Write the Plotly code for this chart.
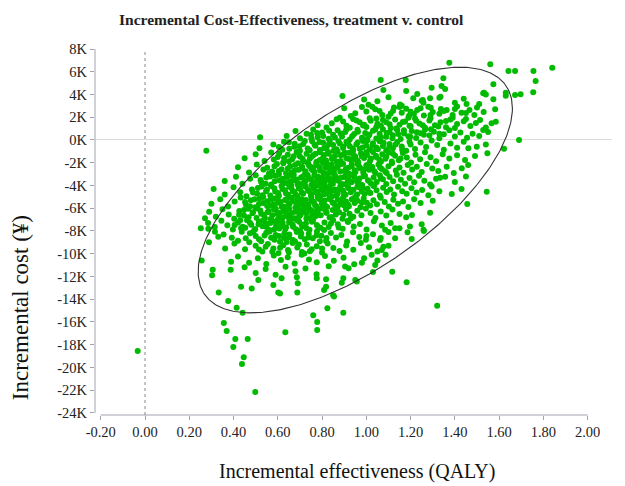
import plotly.graph_objects as go
import numpy as np

# ---------------- data (incremental QALY, incremental cost in thousands of yen) ----------------
draws_upper = [
    (1.375, 6.80), (1.560, 6.65), (1.840, 6.36), (1.642, 6.07), (1.672, 6.07), (1.755, 6.07),
    (1.348, 5.42), (1.178, 5.27), (1.065, 5.27), (1.765, 5.19),
    (1.574, 4.90), (1.077, 4.40), (1.754, 4.19), (1.697, 4.02), (1.630, 4.16), (1.532, 4.16),
    (1.295, 4.60), (1.340, 4.75), (1.356, 4.48), (1.528, 4.10), (1.540, 4.00), (1.180, 4.30), (1.230, 4.05),
    (1.672, 3.96), (1.630, 3.90), (0.892, 3.87), (1.330, 3.72), (1.288, 3.67), (1.250, 3.45), (1.212, 3.67),
    (1.255, 3.52), (1.258, 3.28), (1.335, 3.81), (1.400, 3.28), (1.453, 3.16), (1.510, 3.16), (1.574, 3.58),
    (1.160, 3.02), (1.152, 3.13), (1.050, 3.40), (0.990, 3.55), (1.100, 3.75), (1.440, 3.62), (1.010, 3.10),
    (1.291, 2.84), (1.027, 2.93), (1.230, 2.64), (1.121, 2.58), (1.072, 2.20), (1.193, 2.14), (1.582, 2.70),
    (1.488, 2.20), (1.466, 2.64), (1.430, 2.40), (1.363, 2.64), (1.337, 2.72), (1.300, 2.45), (1.280, 2.93),
    (1.215, 2.30), (1.125, 2.85), (1.000, 2.50), (0.950, 2.35), (0.900, 2.80), (0.930, 2.10), (1.040, 2.70),
    (1.160, 2.40), (1.390, 2.20), (1.410, 2.95), (1.530, 2.45), (1.260, 2.15), (1.330, 2.30), (0.980, 2.90),
    (1.180, 2.75), (1.100, 2.05),
    (1.060, 2.55), (1.110, 2.32), (1.150, 2.90), (1.200, 2.48), (1.245, 2.78), (1.290, 2.20), (1.350, 2.55),
    (1.400, 2.72), (1.450, 2.38), (1.500, 2.85),
    (0.866, 1.82), (0.880, 1.96), (0.844, 1.47), (0.970, 1.56), (1.066, 1.26), (1.585, 1.60), (1.566, 1.47),
    (1.514, 1.76), (1.390, 1.96), (0.780, 1.30), (0.820, 1.10), (0.910, 1.25), (0.940, 1.85), (1.000, 1.15),
    (1.020, 1.70), (1.045, 1.90), (1.090, 1.55), (1.110, 1.05), (1.130, 1.80), (1.150, 1.35), (1.175, 1.62),
    (1.200, 1.20), (1.220, 1.88), (1.240, 1.45), (1.265, 1.08), (1.285, 1.72), (1.310, 1.30), (1.335, 1.55),
    (1.360, 1.12), (1.380, 1.80), (1.410, 1.40), (1.440, 1.65), (1.470, 1.22), (1.495, 1.50), (1.540, 1.10),
    (1.050, 1.42), (1.190, 1.95), (0.990, 1.35),
    (0.895, 1.62), (0.925, 1.08), (0.955, 1.72), (0.985, 1.28), (1.015, 1.92), (1.045, 1.15), (1.075, 1.75),
    (1.105, 1.38), (1.135, 1.02), (1.165, 1.58), (1.195, 1.25), (1.225, 1.70), (1.255, 1.30), (1.290, 1.92),
    (1.325, 1.18), (1.360, 1.68), (1.400, 1.05), (1.450, 1.85),
]

draws_core_hi = [
    (0.520, 0.24), (1.690, 0.00), (1.528, 0.88), (0.640, 0.35), (0.680, 0.80), (0.700, 0.15), (0.730, 0.55),
    (0.760, 0.92), (0.780, 0.25), (0.800, 0.65), (0.830, 0.10), (0.850, 0.45), (0.870, 0.85), (0.890, 0.30),
    (0.905, 0.70), (0.925, 0.05), (0.945, 0.52), (0.960, 0.90), (0.980, 0.20), (0.995, 0.62), (1.010, 0.38),
    (1.030, 0.82), (1.045, 0.12), (1.060, 0.55), (1.075, 0.95), (1.090, 0.28), (1.105, 0.68), (1.120, 0.42),
    (1.140, 0.88), (1.155, 0.08), (1.170, 0.58), (1.190, 0.32), (1.205, 0.78), (1.225, 0.18), (1.245, 0.60),
    (1.265, 0.92), (1.285, 0.40), (1.305, 0.72), (1.330, 0.15), (1.350, 0.50), (1.375, 0.85), (1.400, 0.30),
    (1.425, 0.65), (1.455, 0.20), (1.480, 0.55), (1.510, 0.35), (1.550, 0.70), (0.750, 0.45),
    (0.752, 0.12), (0.778, 0.62), (0.805, 0.35), (0.832, 0.82), (0.858, 0.22), (0.884, 0.58), (0.910, 0.95),
    (0.936, 0.32), (0.962, 0.72), (0.988, 0.08), (1.014, 0.48), (1.040, 0.92), (1.066, 0.25), (1.092, 0.62),
    (1.118, 0.15), (1.144, 0.52), (1.170, 0.85), (1.198, 0.28), (1.228, 0.68), (1.260, 0.45), (1.292, 0.95),
    (1.330, 0.55),
    (0.277, -0.94), (0.517, -0.73), (1.622, -0.76), (1.461, -0.73), (1.499, -0.59),
    (0.580, -0.40), (0.620, -0.85), (0.650, -0.20), (0.675, -0.60), (0.700, -0.95), (0.715, -0.35), (0.735, -0.75),
    (0.755, -0.10), (0.770, -0.50), (0.790, -0.88), (0.805, -0.25), (0.820, -0.65), (0.835, -0.05), (0.850, -0.45),
    (0.865, -0.82), (0.880, -0.30), (0.895, -0.70), (0.910, -0.15), (0.925, -0.55), (0.940, -0.92), (0.955, -0.38),
    (0.970, -0.78), (0.985, -0.08), (1.000, -0.48), (1.015, -0.85), (1.030, -0.28), (1.045, -0.66), (1.060, -0.12),
    (1.075, -0.52), (1.090, -0.90), (1.105, -0.35), (1.120, -0.72), (1.140, -0.18), (1.160, -0.58), (1.180, -0.95),
    (1.200, -0.40), (1.220, -0.80), (1.245, -0.22), (1.270, -0.62), (1.295, -0.05), (1.320, -0.45), (1.350, -0.85),
    (1.380, -0.30), (1.410, -0.68), (1.440, -0.15), (1.540, -0.40),
    (0.605, -0.62), (0.628, -0.15), (0.652, -0.78), (0.676, -0.32), (0.698, -0.55), (0.722, -0.08), (0.744, -0.90),
    (0.766, -0.42), (0.788, -0.18), (0.809, -0.72), (0.831, -0.38), (0.852, -0.95), (0.874, -0.12), (0.896, -0.58),
    (0.917, -0.30), (0.939, -0.75), (0.961, -0.22), (0.983, -0.65), (1.005, -0.02), (1.027, -0.50), (1.052, -0.82),
    (1.078, -0.25), (1.104, -0.60), (1.132, -0.40), (1.162, -0.85), (1.195, -0.15),
    (1.491, -1.40), (1.547, -1.17), (1.446, -1.76),
    (0.450, -1.60), (0.500, -1.25), (0.540, -1.85), (0.570, -1.10), (0.600, -1.50), (0.625, -1.95), (0.645, -1.30),
    (0.665, -1.70), (0.685, -1.05), (0.700, -1.45), (0.715, -1.88), (0.730, -1.20), (0.745, -1.62), (0.760, -1.35),
    (0.775, -1.92), (0.790, -1.08), (0.805, -1.55), (0.818, -1.80), (0.830, -1.22), (0.845, -1.68), (0.858, -1.40),
    (0.870, -1.02), (0.884, -1.85), (0.897, -1.28), (0.910, -1.60), (0.923, -1.12), (0.936, -1.75), (0.950, -1.45),
    (0.963, -1.95), (0.976, -1.18), (0.990, -1.58), (1.003, -1.32), (1.017, -1.82), (1.030, -1.05), (1.044, -1.50),
    (1.058, -1.72), (1.072, -1.25), (1.086, -1.65), (1.100, -1.10), (1.115, -1.90), (1.130, -1.38), (1.147, -1.78),
    (1.165, -1.15), (1.183, -1.55), (1.202, -1.98), (1.222, -1.30), (1.243, -1.70), (1.265, -1.08), (1.290, -1.52),
    (1.315, -1.88), (1.345, -1.25), (1.375, -1.62), (1.410, -1.35), (0.820, -1.95),
    (0.582, -1.72), (0.606, -1.18), (0.628, -1.58), (0.650, -1.88), (0.672, -1.42), (0.693, -1.15), (0.712, -1.65),
    (0.733, -1.95), (0.752, -1.48), (0.771, -1.22), (0.790, -1.75), (0.809, -1.32), (0.827, -1.05), (0.846, -1.55),
    (0.865, -1.90), (0.884, -1.35), (0.903, -1.12), (0.922, -1.68), (0.941, -1.28), (0.960, -1.80), (0.980, -1.42),
    (1.000, -1.08), (1.021, -1.62), (1.043, -1.38), (1.066, -1.92), (1.090, -1.48), (1.120, -1.20), (1.155, -1.62),
    (1.431, -2.49), (1.363, -2.35),
    (0.420, -2.40), (0.470, -2.85), (0.505, -2.15), (0.535, -2.60), (0.560, -2.95), (0.585, -2.30), (0.605, -2.72),
    (0.625, -2.05), (0.645, -2.50), (0.662, -2.88), (0.678, -2.20), (0.694, -2.62), (0.710, -2.35), (0.724, -2.92),
    (0.738, -2.10), (0.752, -2.55), (0.765, -2.80), (0.778, -2.25), (0.791, -2.68), (0.804, -2.02), (0.817, -2.45),
    (0.830, -2.90), (0.843, -2.18), (0.856, -2.58), (0.869, -2.32), (0.882, -2.78), (0.895, -2.08), (0.908, -2.52),
    (0.921, -2.95), (0.934, -2.28), (0.947, -2.65), (0.960, -2.12), (0.973, -2.48), (0.986, -2.85), (1.000, -2.22),
    (1.013, -2.62), (1.027, -2.38), (1.041, -2.90), (1.055, -2.15), (1.070, -2.55), (1.085, -2.75), (1.100, -2.30),
    (1.116, -2.05), (1.133, -2.68), (1.150, -2.42), (1.168, -2.88), (1.187, -2.20), (1.207, -2.60), (1.228, -2.35),
    (1.250, -2.82), (1.273, -2.12), (1.298, -2.50), (1.325, -2.72), (1.395, -2.90), (1.460, -2.20), (0.760, -2.40),
    (0.552, -2.45), (0.574, -2.78), (0.596, -2.12), (0.617, -2.58), (0.637, -2.92), (0.656, -2.32), (0.674, -2.70),
    (0.691, -2.05), (0.708, -2.48), (0.725, -2.75), (0.742, -2.28), (0.758, -2.65), (0.774, -2.02), (0.790, -2.42),
    (0.806, -2.88), (0.822, -2.22), (0.838, -2.62), (0.854, -2.95), (0.870, -2.38), (0.886, -2.12), (0.902, -2.72),
    (0.918, -2.45), (0.934, -2.08), (0.951, -2.82), (0.968, -2.35), (0.990, -2.60), (1.012, -2.10), (1.036, -2.75),
    (1.062, -2.42), (1.092, -2.90),
    (0.411, -3.23), (1.356, -3.23), (1.333, -3.31),
    (0.360, -3.60), (0.440, -3.85), (0.475, -3.40), (0.500, -3.10), (0.525, -3.70), (0.548, -3.30), (0.570, -3.92),
    (0.590, -3.15), (0.608, -3.55), (0.625, -3.80), (0.641, -3.25), (0.657, -3.65), (0.672, -3.05), (0.686, -3.48),
    (0.700, -3.88), (0.713, -3.20), (0.726, -3.60), (0.739, -3.35), (0.752, -3.95), (0.765, -3.12), (0.777, -3.52),
    (0.789, -3.75), (0.801, -3.28), (0.813, -3.68), (0.825, -3.02), (0.837, -3.42), (0.849, -3.85), (0.861, -3.18),
    (0.873, -3.58), (0.885, -3.32), (0.897, -3.90), (0.909, -3.08), (0.921, -3.50), (0.933, -3.72), (0.945, -3.22),
    (0.957, -3.62), (0.969, -3.38), (0.981, -3.95), (0.994, -3.15), (1.007, -3.55), (1.020, -3.80), (1.033, -3.30),
    (1.047, -3.70), (1.061, -3.10), (1.075, -3.45), (1.090, -3.88), (1.105, -3.25), (1.121, -3.62), (1.138, -3.05),
    (1.156, -3.50), (1.175, -3.85), (1.195, -3.35), (1.216, -3.72), (1.238, -3.15), (1.262, -3.58), (1.288, -3.92),
    (1.315, -3.40), (1.400, -3.70), (1.450, -3.20), (0.660, -3.95), (0.860, -3.50),
    (0.522, -3.52), (0.545, -3.85), (0.566, -3.20), (0.586, -3.62), (0.605, -3.02), (0.623, -3.40), (0.640, -3.78),
    (0.657, -3.15), (0.673, -3.55), (0.689, -3.92), (0.705, -3.30), (0.720, -3.68), (0.735, -3.08), (0.750, -3.48),
    (0.765, -3.82), (0.780, -3.22), (0.795, -3.58), (0.810, -3.95), (0.825, -3.35), (0.840, -3.72), (0.855, -3.10),
    (0.870, -3.45), (0.885, -3.88), (0.900, -3.25), (0.916, -3.65), (0.932, -3.05), (0.949, -3.42), (0.967, -3.80),
    (0.987, -3.18), (1.010, -3.58), (1.036, -3.95), (1.066, -3.38),
]

draws_core_lo = [
    (1.544, -4.55), (1.386, -4.75), (1.295, -4.10),
    (0.310, -4.30), (0.360, -4.80), (0.400, -4.15), (0.430, -4.60), (0.458, -4.95), (0.483, -4.35), (0.506, -4.70),
    (0.527, -4.08), (0.547, -4.50), (0.566, -4.88), (0.584, -4.25), (0.601, -4.65), (0.617, -4.05), (0.632, -4.42),
    (0.647, -4.82), (0.661, -4.20), (0.675, -4.58), (0.688, -4.92), (0.701, -4.32), (0.714, -4.72), (0.726, -4.12),
    (0.738, -4.48), (0.750, -4.85), (0.762, -4.28), (0.774, -4.62), (0.786, -4.02), (0.798, -4.40), (0.810, -4.78),
    (0.822, -4.18), (0.834, -4.55), (0.846, -4.95), (0.858, -4.35), (0.870, -4.70), (0.882, -4.10), (0.894, -4.45),
    (0.906, -4.82), (0.918, -4.22), (0.930, -4.60), (0.942, -4.38), (0.954, -4.90), (0.966, -4.15), (0.979, -4.52),
    (0.992, -4.75), (1.005, -4.28), (1.018, -4.65), (1.032, -4.05), (1.046, -4.42), (1.061, -4.88), (1.076, -4.20),
    (1.092, -4.58), (1.108, -4.35), (1.125, -4.80), (1.143, -4.12), (1.162, -4.50), (1.182, -4.72), (1.204, -4.25),
    (1.227, -4.62), (1.252, -4.40), (1.280, -4.85), (1.330, -4.50), (1.430, -4.30), (0.780, -4.98), (0.960, -4.08),
    (0.488, -4.62), (0.510, -4.22), (0.531, -4.85), (0.551, -4.38), (0.570, -4.05), (0.588, -4.52), (0.605, -4.90),
    (0.621, -4.30), (0.637, -4.70), (0.652, -4.12), (0.667, -4.48), (0.681, -4.82), (0.695, -4.25), (0.709, -4.62),
    (0.723, -4.02), (0.737, -4.40), (0.751, -4.75), (0.765, -4.18), (0.779, -4.55), (0.793, -4.92), (0.807, -4.32),
    (0.821, -4.68), (0.835, -4.08), (0.850, -4.45), (0.865, -4.88), (0.881, -4.28), (0.898, -4.65), (0.916, -4.02),
    (0.936, -4.42), (0.958, -4.80), (0.983, -4.25), (1.012, -4.60),
    (1.456, -5.63),
    (0.300, -5.60), (0.340, -5.20), (0.375, -5.85), (0.405, -5.40), (0.432, -5.05), (0.456, -5.70), (0.478, -5.30),
    (0.498, -5.92), (0.517, -5.15), (0.535, -5.55), (0.552, -5.80), (0.568, -5.25), (0.584, -5.65), (0.599, -5.08),
    (0.613, -5.45), (0.627, -5.88), (0.640, -5.22), (0.653, -5.60), (0.666, -5.35), (0.679, -5.95), (0.691, -5.12),
    (0.703, -5.50), (0.715, -5.78), (0.727, -5.28), (0.739, -5.68), (0.751, -5.02), (0.763, -5.42), (0.775, -5.85),
    (0.787, -5.18), (0.799, -5.58), (0.811, -5.32), (0.823, -5.90), (0.835, -5.10), (0.847, -5.48), (0.859, -5.72),
    (0.871, -5.25), (0.883, -5.62), (0.895, -5.05), (0.908, -5.40), (0.921, -5.82), (0.934, -5.20), (0.947, -5.55),
    (0.960, -5.35), (0.974, -5.92), (0.988, -5.15), (1.002, -5.52), (1.017, -5.75), (1.032, -5.30), (1.048, -5.65),
    (1.065, -5.08), (1.083, -5.45), (1.102, -5.85), (1.122, -5.25), (1.143, -5.60), (1.166, -5.40), (1.190, -5.90),
    (1.216, -5.20), (1.245, -5.55), (1.300, -5.35), (0.720, -5.95), (0.900, -5.75),
    (0.452, -5.45), (0.474, -5.82), (0.495, -5.22), (0.515, -5.62), (0.534, -5.02), (0.552, -5.38), (0.569, -5.75),
    (0.586, -5.15), (0.602, -5.52), (0.618, -5.90), (0.633, -5.28), (0.648, -5.68), (0.663, -5.08), (0.678, -5.45),
    (0.693, -5.82), (0.708, -5.22), (0.723, -5.58), (0.738, -5.95), (0.753, -5.35), (0.768, -5.72), (0.783, -5.05),
    (0.799, -5.42), (0.815, -5.78), (0.832, -5.18), (0.850, -5.55), (0.870, -5.92), (0.892, -5.30), (0.917, -5.68),
    (0.945, -5.10), (0.980, -5.50),
    (0.271, -6.88), (1.288, -6.39), (1.206, -6.60),
    (0.290, -6.30), (0.320, -6.75), (0.350, -6.10), (0.378, -6.55), (0.403, -6.92), (0.426, -6.25), (0.447, -6.65),
    (0.467, -6.05), (0.486, -6.45), (0.504, -6.85), (0.521, -6.20), (0.537, -6.60), (0.553, -6.35), (0.568, -6.95),
    (0.583, -6.12), (0.597, -6.50), (0.611, -6.78), (0.625, -6.28), (0.638, -6.68), (0.651, -6.02), (0.664, -6.42),
    (0.677, -6.88), (0.690, -6.18), (0.703, -6.58), (0.716, -6.32), (0.729, -6.90), (0.742, -6.08), (0.755, -6.48),
    (0.768, -6.72), (0.781, -6.25), (0.794, -6.62), (0.807, -6.05), (0.820, -6.40), (0.834, -6.82), (0.848, -6.15),
    (0.862, -6.55), (0.877, -6.35), (0.892, -6.92), (0.908, -6.10), (0.924, -6.48), (0.941, -6.75), (0.959, -6.22),
    (0.978, -6.62), (0.998, -6.02), (1.019, -6.42), (1.041, -6.85), (1.065, -6.28), (1.090, -6.65), (1.118, -6.12),
    (1.150, -6.50), (1.180, -6.80), (0.600, -6.98), (0.750, -6.15),
    (0.425, -6.58), (0.447, -6.15), (0.468, -6.80), (0.488, -6.35), (0.507, -6.02), (0.525, -6.48), (0.542, -6.88),
    (0.559, -6.25), (0.575, -6.62), (0.591, -6.05), (0.607, -6.42), (0.622, -6.82), (0.637, -6.20), (0.652, -6.55),
    (0.667, -6.92), (0.682, -6.32), (0.697, -6.70), (0.712, -6.10), (0.728, -6.45), (0.744, -6.85), (0.761, -6.28),
    (0.779, -6.62), (0.798, -6.00), (0.819, -6.38), (0.842, -6.78), (0.868, -6.22), (0.897, -6.58), (0.930, -6.90),
    (0.252, -7.76), (0.286, -7.80), (0.434, -7.76), (1.197, -7.60), (1.258, -7.90), (1.130, -7.76), (1.085, -7.90),
    (0.285, -7.30), (0.315, -7.65), (0.345, -7.10), (0.372, -7.50), (0.397, -7.88), (0.420, -7.25), (0.441, -7.62),
    (0.461, -7.05), (0.480, -7.45), (0.498, -7.82), (0.515, -7.20), (0.531, -7.58), (0.547, -7.35), (0.562, -7.92),
    (0.577, -7.12), (0.592, -7.52), (0.607, -7.78), (0.622, -7.28), (0.637, -7.68), (0.652, -7.02), (0.667, -7.42),
    (0.682, -7.85), (0.697, -7.18), (0.712, -7.58), (0.727, -7.32), (0.743, -7.90), (0.759, -7.08), (0.776, -7.48),
    (0.793, -7.72), (0.811, -7.25), (0.830, -7.65), (0.850, -7.05), (0.871, -7.40), (0.893, -7.80), (0.917, -7.22),
    (0.943, -7.60), (0.971, -7.38), (1.001, -7.88), (1.034, -7.15), (1.070, -7.52), (1.110, -7.30), (1.150, -7.75),
    (1.250, -7.40), (0.700, -7.95),
    (0.405, -7.48), (0.430, -7.05), (0.453, -7.72), (0.474, -7.28), (0.494, -7.92), (0.513, -7.40), (0.531, -7.10),
    (0.549, -7.65), (0.566, -7.30), (0.583, -7.88), (0.600, -7.15), (0.617, -7.55), (0.634, -7.82), (0.651, -7.25),
    (0.669, -7.62), (0.688, -7.05), (0.708, -7.45), (0.730, -7.75), (0.754, -7.18), (0.780, -7.58), (0.809, -7.92),
    (0.840, -7.35), (0.875, -7.70), (0.915, -7.12),
    (0.316, -8.06), (0.331, -8.50), (0.392, -8.60), (0.437, -8.06), (0.474, -8.20), (1.260, -8.00), (1.205, -8.70),
    (1.130, -8.64), (1.186, -8.11), (1.062, -8.79), (1.000, -8.44),
    (0.355, -8.30), (0.420, -8.85), (0.500, -8.45), (0.525, -8.90), (0.548, -8.15), (0.570, -8.60), (0.590, -8.35),
    (0.610, -8.95), (0.630, -8.20), (0.650, -8.55), (0.668, -8.80), (0.686, -8.10), (0.704, -8.48), (0.722, -8.72),
    (0.740, -8.25), (0.758, -8.65), (0.777, -8.05), (0.797, -8.42), (0.818, -8.88), (0.840, -8.18), (0.863, -8.58),
    (0.887, -8.35), (0.913, -8.92), (0.940, -8.12), (0.968, -8.52), (0.998, -8.78), (1.030, -8.28), (1.065, -8.62),
    (1.100, -8.08), (0.640, -8.98), (0.790, -8.90),
    (0.455, -8.65), (0.488, -8.12), (0.515, -8.72), (0.540, -8.40), (0.563, -8.05), (0.585, -8.78), (0.606, -8.45),
    (0.628, -8.62), (0.652, -8.32), (0.678, -8.92), (0.706, -8.22), (0.738, -8.58), (0.775, -8.38), (0.820, -8.62),
]

draws_lower = [
    (0.289, -9.00), (0.471, -9.00), (0.362, -9.55), (0.452, -9.60), (0.404, -9.10), (1.077, -9.38), (1.070, -9.67),
    (0.500, -9.30), (0.530, -9.80), (0.555, -9.15), (0.580, -9.55), (0.603, -9.95), (0.625, -9.25), (0.646, -9.68),
    (0.667, -9.05), (0.688, -9.45), (0.709, -9.85), (0.731, -9.20), (0.753, -9.60), (0.776, -9.35), (0.800, -9.90),
    (0.825, -9.10), (0.851, -9.50), (0.879, -9.75), (0.909, -9.28), (0.941, -9.65), (0.975, -9.05), (1.012, -9.42),
    (1.050, -9.80), (1.100, -9.30), (0.720, -9.98),
    (0.515, -9.62), (0.545, -9.38), (0.575, -9.82), (0.610, -9.48), (0.650, -9.88), (0.695, -9.18), (0.745, -9.78),
    (0.800, -9.55),
    (0.256, -10.60), (0.389, -10.70), (1.087, -10.10), (1.024, -10.10), (0.990, -10.40), (0.980, -10.80),
    (0.420, -10.25), (0.470, -10.80), (0.510, -10.40), (0.548, -10.90), (0.582, -10.15), (0.614, -10.55),
    (0.645, -10.30), (0.676, -10.85), (0.708, -10.10), (0.741, -10.50), (0.776, -10.75), (0.813, -10.20),
    (0.853, -10.62), (0.897, -10.35), (0.945, -10.92), (1.050, -10.60),
    (0.306, -11.40), (0.387, -11.40), (0.303, -11.90), (1.117, -11.58), (1.040, -11.00), (0.904, -11.13),
    (0.920, -11.28), (0.450, -11.20), (0.500, -11.70), (0.545, -11.35), (0.590, -11.85), (0.635, -11.15),
    (0.680, -11.55), (0.725, -11.30), (0.775, -11.80), (0.830, -11.10), (1.030, -11.60),
    (0.434, -12.90), (1.182, -12.50), (0.512, -12.30), (0.617, -12.15), (0.686, -12.07), (0.776, -12.15),
    (0.818, -12.25), (0.690, -12.60), (0.896, -12.15), (0.889, -12.55), (0.950, -12.30), (0.957, -12.45),
    (0.580, -12.75), (0.818, -12.90),
    (0.333, -13.40), (0.482, -13.05), (0.602, -13.40), (0.610, -13.50), (0.688, -13.40), (0.809, -13.20),
    (0.850, -13.65), (0.854, -13.77),
    (0.376, -14.15), (0.414, -14.75), (0.824, -14.80), (1.320, -14.57),
    (0.441, -15.20), (0.896, -15.20), (0.760, -15.40), (0.778, -16.00), (0.778, -16.70), (0.356, -16.10),
    (0.369, -16.80), (0.634, -16.90), (0.408, -17.50), (0.464, -17.50), (0.399, -18.20), (0.446, -19.10),
    (0.438, -19.70), (0.498, -22.15), (-0.033, -18.55),
]

# 95% confidence ellipse (QALY, cost K)
ellipse_center = (0.95, -4.4)
ellipse_sd = (0.71, 10.8)      # half-extent along each axis
ellipse_cov = 5.1              # shared term (QALY x K)

x_ticks = [-0.2, 0.0, 0.2, 0.4, 0.6, 0.8, 1.0, 1.2, 1.4, 1.6, 1.8, 2.0]
x_tick_labels = ["-0.20", "0.00", "0.20", "0.40", "0.60", "0.80", "1.00", "1.20", "1.40", "1.60", "1.80", "2.00"]
y_ticks = [8, 6, 4, 2, 0, -2, -4, -6, -8, -10, -12, -14, -16, -18, -20, -22, -24]
y_tick_labels = [f"{v}K" for v in y_ticks]

# ---------------- figure ----------------
all_draws = draws_upper + draws_core_hi + draws_core_lo + draws_lower
qaly = [p[0] for p in all_draws]
cost_k = [p[1] for p in all_draws]

t = np.linspace(0, 2 * np.pi, 361)
l11 = ellipse_sd[0]
l21 = ellipse_cov / l11
l22 = np.sqrt(ellipse_sd[1] ** 2 - l21 ** 2)
ex = ellipse_center[0] + l11 * np.cos(t)
ey = ellipse_center[1] + l21 * np.cos(t) + l22 * np.sin(t)

FONT = "Liberation Serif"
AXC = "#a2a2b0"

fig = go.Figure()
fig.add_trace(go.Scatter(x=qaly, y=cost_k, mode="markers",
                         marker=dict(color="#00bb00", size=6, line=dict(width=0)),
                         hoverinfo="skip", showlegend=False))
fig.add_trace(go.Scatter(x=ex, y=ey, mode="lines",
                         line=dict(color="#333333", width=1.1), hoverinfo="skip", showlegend=False))

x_range = [-0.226, 2.11]
y_range = [-24.18, 8.0]

# the page body adds an 8px offset, so the figure is 8px smaller than the window
fig.update_layout(
    width=617, height=478,
    margin=dict(l=87, r=13, t=41, b=71),
    paper_bgcolor="white", plot_bgcolor="white",
    font=dict(family=FONT, size=14.5, color="#222222"),
    xaxis=dict(range=x_range, tickvals=x_ticks, ticktext=x_tick_labels,
               showgrid=False, zeroline=False, showline=False,
               ticks="outside", ticklen=4, tickcolor=AXC,
               tickfont=dict(family=FONT, size=14.5, color="#222222")),
    yaxis=dict(range=y_range, tickvals=y_ticks, ticktext=y_tick_labels,
               showgrid=False, zeroline=True, zerolinecolor="#dcdcdc", zerolinewidth=1,
               showline=False,
               ticks="outside", ticklen=4, tickcolor=AXC,
               tickfont=dict(family=FONT, size=14.5, color="#222222")),
    shapes=[
        dict(type="line", xref="x", yref="paper", x0=x_ticks[0], x1=x_ticks[-1], y0=0, y1=0,
             line=dict(color=AXC, width=1)),
        dict(type="line", xref="paper", yref="y", x0=0, x1=0, y0=y_ticks[-1], y1=y_ticks[0],
             line=dict(color=AXC, width=1)),
        dict(type="line", xref="x", yref="y", x0=0, x1=0, y0=y_range[0], y1=y_ticks[0],
             line=dict(color="#8a8a8a", width=1, dash="dot")),
    ],
    annotations=[
        dict(text="<b>Incremental Cost-Effectiveness, treatment v. control</b>",
             xref="paper", yref="paper", x=0.381, y=1.108, xanchor="center", yanchor="top",
             showarrow=False, font=dict(family=FONT, size=15.5, color="#222222")),
        dict(text="Incremental effectiveness (QALY)",
             xref="paper", yref="paper", x=0.507, y=-0.155, xanchor="center", yanchor="middle",
             showarrow=False, font=dict(family=FONT, size=20, color="#111111")),
        dict(text="Incremental cost (¥)", textangle=-90,
             xref="paper", yref="paper", x=-0.145, y=0.292, xanchor="center", yanchor="middle",
             showarrow=False, font=dict(family=FONT, size=23, color="#111111")),
    ],
)

fig.write_html("out.html")
